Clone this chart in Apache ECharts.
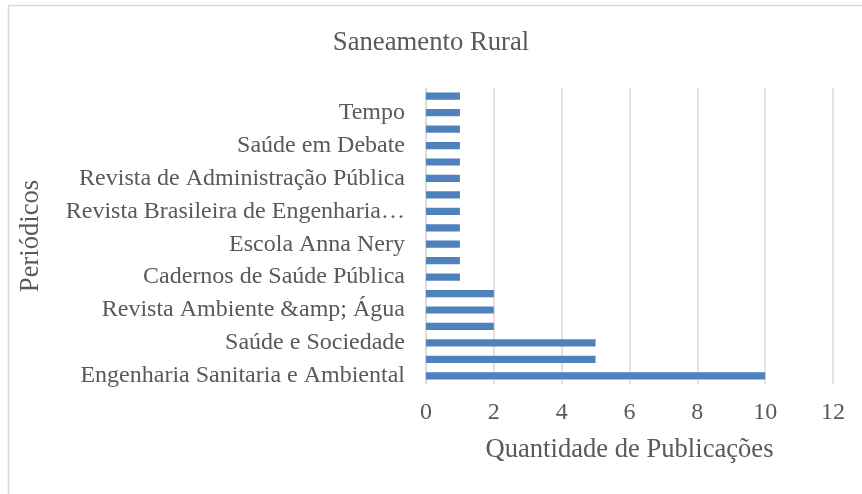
<!DOCTYPE html>
<html>
<head>
<meta charset="utf-8">
<script src="https://cdn.jsdelivr.net/npm/echarts@6/dist/echarts.min.js"></script>
<style>
    html, body { margin: 0; padding: 0; background: #fff; }
    #main { width: 862px; height: 494px; }
</style>
</head>
<body>
<div id="main"></div>
<script>
    // categorias de baixo para cima (só as pares aparecem no eixo)
    var periodicos = [
        'Engenharia Sanitaria e Ambiental', '',
        'Saúde e Sociedade', '',
        'Revista Ambiente &amp; Água', '',
        'Cadernos de Saúde Pública', '',
        'Escola Anna Nery', '',
        'Revista Brasileira de Engenharia…', '',
        'Revista de Administração Pública', '',
        'Saúde em Debate', '',
        'Tempo', ''
    ];
    var publicacoes = [10, 5, 5, 2, 2, 2, 1, 1, 1, 1, 1, 1, 1, 1, 1, 1, 1, 1];

    var fonte = 'Liberation Serif';
    var cinza = '#595959';

    var myChart = echarts.init(document.getElementById('main'));
    var option = {
        animation: false,
        title: {
            text: 'Saneamento Rural',
            left: 'center',
            top: 24,
            textStyle: { fontFamily: fonte, fontSize: 26.7, fontWeight: 'normal', color: cinza }
        },
        graphic: [{
            type: 'rect',
            shape: { x: 8.5, y: 5.5, width: 870, height: 500 },
            style: { fill: 'none', stroke: '#d9d9d9', lineWidth: 1.5 },
            silent: true
        }],
        grid: { left: 426, right: 29, top: 88, bottom: 110 },
        xAxis: {
            type: 'value',
            min: 0,
            max: 12,
            interval: 2,
            name: 'Quantidade de Publicações',
            nameLocation: 'middle',
            nameGap: 53,
            nameTextStyle: { fontFamily: fonte, fontSize: 26.6, color: cinza },
            axisLabel: { fontFamily: fonte, fontSize: 24, color: cinza, margin: 17 },
            axisLine: { show: false },
            axisTick: { show: false },
            splitLine: { lineStyle: { color: '#d9d9d9', width: 1.5 } }
        },
        yAxis: {
            type: 'category',
            data: periodicos,
            name: 'Periódicos',
            nameLocation: 'middle',
            nameGap: 381,
            nameRotate: 90,
            nameTextStyle: { fontFamily: fonte, fontSize: 26.6, color: cinza },
            axisLabel: { interval: 1, fontFamily: fonte, fontSize: 24, color: cinza, margin: 21 },
            axisLine: { lineStyle: { color: '#d9d9d9', width: 1.5 } },
            axisTick: { show: false }
        },
        series: [{
            type: 'bar',
            data: publicacoes,
            barWidth: '44%',
            itemStyle: { color: '#4f81bd' }
        }]
    };
    myChart.setOption(option);
</script>
</body>
</html>
